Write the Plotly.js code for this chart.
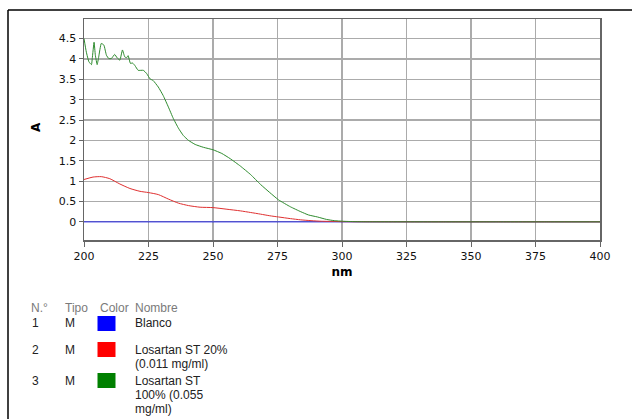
<!DOCTYPE html>
<html>
<head>
<meta charset="utf-8">
<script src="https://cdn.plot.ly/plotly-3.0.1.min.js"></script>
<style>
  html, body { margin: 0; padding: 0; background: #fff; }
  #chart { width: 632px; height: 419px; }
</style>
</head>
<body>
<div id="chart"></div>
<script>
// Absorbance spectra (A vs wavelength in nm)
const blankNm = [200, 250, 300, 350, 400];
const blankA  = [0, 0, 0, 0, 0];

const redNm = [200, 203.5, 206.7, 210, 213.9, 217.8, 221.7, 224.9, 228.8, 232.7, 236.6, 240.5, 245, 250, 255.4, 260.6, 264.6, 268.4, 272, 275.4, 280, 284, 288, 292, 297, 300, 310, 330, 360, 400];
const redA  = [1.04, 1.1, 1.11, 1.06, 0.93, 0.82, 0.75, 0.72, 0.67, 0.56, 0.46, 0.4, 0.36, 0.35, 0.31, 0.27, 0.23, 0.19, 0.15, 0.12, 0.08, 0.05, 0.03, 0.015, 0.01, 0.005, 0.002, 0, 0, 0];

const greenNm = [200, 200.9, 201.9, 202.9, 203.2, 203.9, 204.4, 205.1, 205.7, 206.7, 207.7, 208.7, 209.6, 210.6, 211.9, 212.8, 213.9, 214.9, 215.8, 216.5, 217.1, 218, 218.8, 219.7, 221, 223, 224.3, 225.6, 226.8, 228.8, 230.7, 232.7, 234.6, 236.6, 238.5, 240.5, 243.1, 246.3, 250, 253.4, 256.7, 260.6, 264.6, 268.4, 272, 275.4, 280, 284, 287, 290.5, 294, 297, 300.3, 305, 310, 320, 340, 360, 380, 400];
const greenA  = [4.5, 4.17, 3.93, 3.86, 4.01, 4.41, 4.09, 3.86, 4.05, 4.38, 4.34, 4.09, 4.01, 4.01, 4.11, 4.03, 3.97, 4.22, 4.05, 4.03, 4.08, 3.89, 3.9, 3.84, 3.72, 3.72, 3.64, 3.51, 3.47, 3.31, 3.1, 2.82, 2.54, 2.3, 2.12, 2.0, 1.9, 1.83, 1.77, 1.68, 1.55, 1.37, 1.16, 0.92, 0.72, 0.54, 0.37, 0.25, 0.17, 0.12, 0.06, 0.03, 0.015, 0.005, 0.002, 0.001, 0, 0, 0, 0];

// Sample table shown under the plot
const sampleNo    = ['1', '2', '3'];
const sampleTipo  = ['M', 'M', 'M'];
const sampleColor = ['#0000ff', '#ff0000', '#008000'];
const sampleName  = [['Blanco'], ['Losartan ST 20%', '(0.011 mg/ml)'], ['Losartan ST', '100% (0.055', 'mg/ml)']];
const tableHeader = ['N.°', 'Tipo', 'Color', 'Nombre'];

const W = 632, H = 419;
const L = 84, R = 600, T = 19, B = 240;
const px = x => (x - L) / (R - L);
const py = y => (B - y) / (B - T);

const lineColors = ['#2020e0', '#e03030', '#2e8b2e'];
const traces = [
  { x: blankNm, y: blankA, mode: 'lines', line: { color: lineColors[0], width: 1 }, name: 'Blanco' },
  { x: redNm, y: redA, mode: 'lines', line: { color: lineColors[1], width: 1, shape: 'spline', smoothing: 0.6 }, name: 'Losartan ST 20%' },
  { x: greenNm, y: greenA, mode: 'lines', line: { color: lineColors[2], width: 1, shape: 'spline', smoothing: 0.4 }, name: 'Losartan ST 100%' }
];

const tableFont = { family: 'Liberation Sans, Arial, sans-serif', size: 12, color: '#222' };
const headFont  = { family: 'Liberation Sans, Arial, sans-serif', size: 12, color: '#7a7a7a' };
const colX = [29, 63, 98, 133];
const rowY = [323, 350, 381];
const rowSq = [[316, 331], [342, 357], [373, 388]];
const lineStep = 14;

const annotations = [];
const shapes = [];
const txt = (x, y, text, font) => annotations.push({ xref: 'paper', yref: 'paper', x: px(x), y: py(y), text: text,
  showarrow: false, xanchor: 'left', yanchor: 'middle', font: font });

tableHeader.forEach((t, i) => txt(colX[i], 308, t, headFont));
sampleNo.forEach((n, i) => {
  txt(30, rowY[i], n, tableFont);
  txt(63, rowY[i], sampleTipo[i], tableFont);
  sampleName[i].forEach((ln, k) => txt(133, rowY[i] + k * lineStep, ln, tableFont));
  shapes.push({ type: 'rect', xref: 'paper', yref: 'paper', x0: px(97.5), x1: px(115.5),
    y0: py(rowSq[i][1]), y1: py(rowSq[i][0]), fillcolor: sampleColor[i], line: { width: 0 } });
});
// outer frame (left and top edges visible)
shapes.push({ type: 'line', xref: 'paper', yref: 'paper', x0: px(8), x1: px(8), y0: py(420), y1: py(10), line: { color: '#000', width: 1.5 } });
shapes.push({ type: 'line', xref: 'paper', yref: 'paper', x0: px(8), x1: px(634), y0: py(10), y1: py(10), line: { color: '#000', width: 1.5 } });
annotations.push({ xref: 'paper', yref: 'paper', x: px(36), y: py(127), text: '<b>A</b>', textangle: -90,
  showarrow: false, xanchor: 'center', yanchor: 'middle',
  font: { family: 'DejaVu Sans, sans-serif', size: 12, color: '#000' } });

const axisFont = { family: 'DejaVu Sans, Verdana, sans-serif', size: 11, color: '#111' };
const layout = {
  width: W, height: H,
  margin: { l: L, r: W - R, t: T, b: H - B },
  paper_bgcolor: '#fff', plot_bgcolor: '#fff',
  showlegend: false,
  xaxis: {
    range: [200, 400], dtick: 25, tick0: 200,
    showgrid: true, gridcolor: '#ababab', gridwidth: 1.2,
    zeroline: false,
    showline: true, linecolor: '#666', linewidth: 1.5, mirror: true,
    ticks: 'outside', ticklen: 5, tickcolor: '#666',
    tickfont: axisFont,
    title: { text: '<b>nm</b>', font: { family: 'DejaVu Sans, sans-serif', size: 12, color: '#000' }, standoff: 6 }
  },
  yaxis: {
    range: [-0.445, 4.98], dtick: 0.5, tick0: 0,
    showgrid: true, gridcolor: '#ababab', gridwidth: 1.2,
    zeroline: false,
    showline: true, linecolor: '#666', linewidth: 1.5, mirror: true,
    ticks: 'outside', ticklen: 4, tickcolor: '#666',
    tickfont: axisFont
  },
  annotations: annotations,
  shapes: shapes
};

Plotly.newPlot('chart', traces, layout, { staticPlot: true, displayModeBar: false });
</script>
</body>
</html>
